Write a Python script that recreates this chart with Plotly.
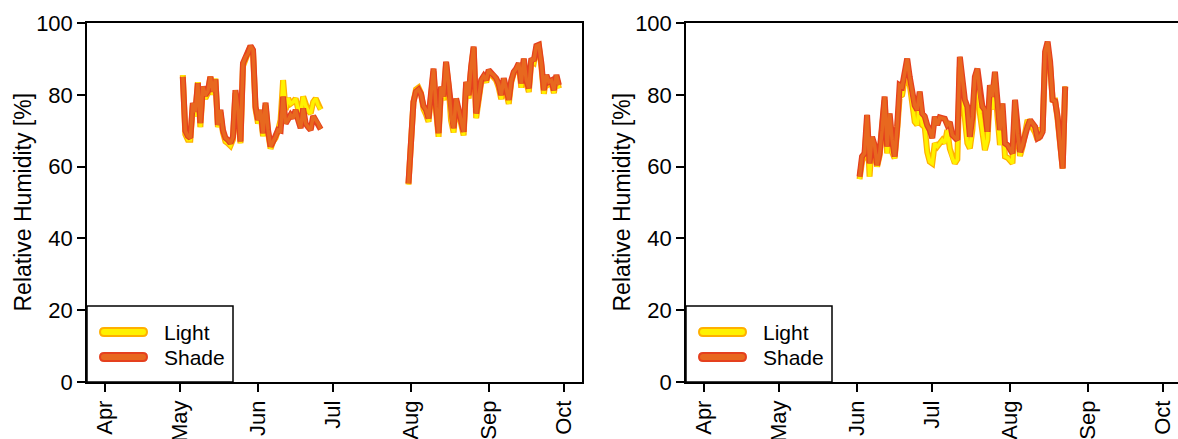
import pandas as pd
import plotly.graph_objects as go

W, H = 1178, 439

# ---------------- data (daily relative humidity, %) ----------------
left1_start = "2019-05-02"
left1_light = [85.5, 69, 67.5, 67.5, 77, 74, 83.5, 71, 82, 79, 80.5, 85, 80, 84.5, 71, 75, 69.5, 67,
               66.5, 65.8, 67.5, 80.5, 75, 66.5, 88, 90, 91.5, 93.5, 92, 76, 72, 75, 68.5, 77, 69.5,
               65, 67, 68, 70, 73, 84.1, 75.8, 79, 77.5, 78, 79, 76, 74.8, 79.5, 77, 75.5, 74.8, 78,
               79, 77, 75.9]
left1_shade = [85, 70, 68.5, 68, 77.7, 75.3, 83.2, 72.1, 82.3, 79.9, 81, 85, 80.9, 84.3, 71.6, 75.8,
               70.2, 68, 67.4, 66.5, 68.3, 81.3, 75.8, 67, 88.8, 90.5, 91.5, 93.6, 92.5, 76.7, 73,
               75.8, 69.3, 77.8, 70.2, 65.6, 67, 68.3, 70.2, 70, 79.5, 72, 73, 74.4, 73.5, 75.8, 73,
               70.7, 76.2, 72, 71, 70.2, 74.1, 73, 72, 70.4]

left2_start = "2019-07-31"
left2_light = [55, 67, 78, 81.5, 82, 80.5, 76, 74.5, 72.5, 79.5, 86.5, 75.5, 68.3, 81.5, 78.5, 88.5,
               82.5, 72.8, 69.5, 78.3, 75.5, 72, 68.7, 83, 79, 87.3, 93, 73.5, 78.5, 83.5, 84.8, 83.5,
               86.5, 85.5, 85, 84, 82, 78.8, 84, 81, 77.5, 83.5, 86, 86.8, 88.5, 82, 89.5, 83.5, 80.8,
               89.5, 89, 93, 93.5, 88, 80.3, 85, 83, 83.5, 80.5, 85, 81.8]
left2_shade = [55.3, 67.4, 78, 80.9, 81.5, 80.2, 76.9, 75.8, 73.4, 80.4, 87.3, 76.7, 69.3, 82.3, 79.5,
               89.2, 83.2, 73.9, 70.7, 79, 76.2, 73, 69.7, 83.6, 79.9, 87.8, 93.4, 74.8, 79.5, 84.1,
               85.2, 84.1, 86.9, 86, 85.5, 84.6, 83, 79.9, 84.6, 81.8, 78.6, 84, 86.4, 87.3, 88.8,
               83.2, 90.1, 84.1, 81.8, 90.1, 89.5, 93.6, 93.9, 88.8, 81.3, 85.5, 83.6, 84, 81.3,
               85.5, 82.7]

right_start = "2019-06-02"
right_light = [56.5, 61.5, 63, 72.5, 57.2, 67.5, 65, 60, 63, 69, 78.5, 63.7, 73.5, 64, 62.3, 70, 79.5,
               80, 84, 88.5, 83, 77.5, 72.5, 71.6, 77.5, 71.6, 71, 64, 61.4, 60.9, 66.5, 65.6, 66.5,
               67.4, 66.5, 70.2, 65, 62.3, 60.9, 62, 87.8, 80.4, 74.8, 66.5, 65.1, 70.2, 82, 85.5,
               74.8, 70, 64.6, 67.4, 79.5, 76, 84, 74, 66, 74.8, 62.8, 62.5, 61.5, 60.9, 75.8, 67.4,
               63, 65.5, 69.3, 73, 72, 71, 69.5, 67.4, 70.7, 70, 90, 93, 88, 78.6, 78.5, 73, 67,
               59.5, 82.3]
right_shade = [57.2, 62.8, 63.7, 74.4, 60.9, 68.3, 66, 60.4, 63.7, 70, 79.5, 65.6, 74.8, 67.4, 62.8,
               71.1, 82.7, 82.3, 86, 90.1, 85, 80.5, 77, 75.8, 80.9, 74.8, 74, 71.5, 70.2, 67.9,
               73.9, 71.6, 73.7, 73.5, 73.3, 71.6, 72.4, 68.8, 68, 67.4, 90.6, 84.1, 78.6, 76.7,
               68.3, 73.9, 85, 87.3, 80, 76.7, 75.8, 69.7, 82.7, 79.5, 86.4, 77.6, 70.2, 77.6, 66.5,
               66, 65, 63.7, 78.6, 69.3, 64.1, 66, 69, 71.1, 73, 72.1, 71.1, 67.9, 68.3, 69.7, 92,
               94.8, 89.2, 78.6, 78.2, 73.9, 67.4, 59.5, 82.3]

series_names = ["Light", "Shade"]
month_tick0 = "2019-04-01"
y_ticks = [0, 20, 40, 60, 80, 100]

# ---------------- styles ----------------
FONT = "Liberation Sans, Arial, sans-serif"
STYLE = {
    "Light": {"outer": "#FFB000", "inner": "#FFF200"},
    "Shade": {"outer": "#E5401E", "inner": "#E8681F"},
}


def px_x(p):
    return p / W


def px_y(p):
    return 1 - p / H


fig = go.Figure()


def add_series(start, light, shade, xa, ya):
    for name, vals in (("Light", light), ("Shade", shade)):
        dates = pd.date_range(start, periods=len(vals), freq="D")
        fig.add_trace(go.Scatter(x=dates, y=vals, mode="lines", xaxis=xa, yaxis=ya,
                                 line=dict(color=STYLE[name]["outer"], width=6),
                                 showlegend=False, hoverinfo="skip"))
        fig.add_trace(go.Scatter(x=dates, y=vals, mode="lines", xaxis=xa, yaxis=ya,
                                 line=dict(color=STYLE[name]["inner"], width=3.5),
                                 showlegend=False, name=name))


# draw Light then Shade for each segment so Shade sits on top
for start, light, shade, xa, ya in [
    (left1_start, left1_light, left1_shade, "x", "y"),
    (left2_start, left2_light, left2_shade, "x", "y"),
    (right_start, right_light, right_shade, "x2", "y2"),
]:
    add_series(start, light, shade, xa, ya)

y_dom = [px_y(382), px_y(23)]
left_dom = [px_x(87), px_x(582)]
right_dom = [px_x(686), 1.0]

axis_common = dict(showline=True, linecolor="black", linewidth=1.5, ticks="outside",
                   ticklen=8, tickwidth=1.5, tickcolor="black", showgrid=False, zeroline=False,
                   automargin=False,
                   tickfont=dict(family=FONT, size=22, color="black"))

xcommon = dict(axis_common, type="date", tick0=month_tick0, dtick="M1", tickformat="%b",
               tickangle=-90, mirror=True)

fig.update_layout(
    width=W, height=H,
    margin=dict(l=0, r=0, t=0, b=0, autoexpand=False),
    paper_bgcolor="white", plot_bgcolor="white",
    showlegend=False,
    xaxis=dict(xcommon, domain=left_dom, anchor="y",
               range=["2019-03-24 19:00", "2019-10-08 05:00"]),
    yaxis=dict(axis_common, domain=y_dom, anchor="x", range=[0, 100], tickvals=y_ticks,
               mirror=True),
    xaxis2=dict(xcommon, domain=right_dom, anchor="y2",
                range=["2019-03-24 19:00", "2019-10-07 00:00"]),
    yaxis2=dict(axis_common, domain=y_dom, anchor="x2", range=[0, 100], tickvals=y_ticks,
                mirror=False),
)

shapes = []
annotations = []
for off in (0, 599):
    # legend box
    shapes.append(dict(type="rect", xref="paper", yref="paper",
                       x0=px_x(87 + off), x1=px_x(233 + off), y0=px_y(382), y1=px_y(306),
                       line=dict(color="black", width=1.5), fillcolor="white", layer="above"))
    for name, cy in (("Light", 332), ("Shade", 357)):
        shapes.append(dict(type="path", xref="paper", yref="paper",
                           xsizemode="pixel", ysizemode="pixel",
                           xanchor=px_x(123.5 + off), yanchor=px_y(cy),
                           path="M -19.5,-4 L 19.5,-4 C 24.8,-4 24.8,4 19.5,4 "
                                "L -19.5,4 C -24.8,4 -24.8,-4 -19.5,-4 Z",
                           fillcolor=STYLE[name]["inner"],
                           line=dict(color=STYLE[name]["outer"], width=2), layer="above"))
        annotations.append(dict(text=name, xref="paper", yref="paper", x=px_x(162 + off),
                                y=px_y(cy), xanchor="left", yanchor="middle", showarrow=False,
                                font=dict(family=FONT, size=21, color="black")))
    # y axis title
    annotations.append(dict(text="Relative Humidity [%]", xref="paper", yref="paper",
                            x=px_x(23 + off), y=px_y(202.5), xanchor="center", yanchor="middle",
                            textangle=-90, showarrow=False,
                            font=dict(family=FONT, size=23, color="black")))

fig.update_layout(shapes=shapes, annotations=annotations)

fig.write_html("out.html")
